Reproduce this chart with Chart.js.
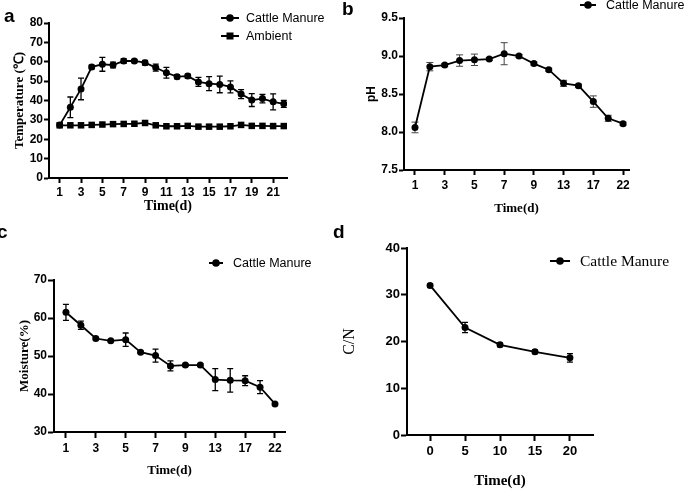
<!DOCTYPE html>
<html>
<head>
<meta charset="utf-8">
<script src="https://cdn.jsdelivr.net/npm/chart.js@4.4.1/dist/chart.umd.min.js"></script>
<style>
  body { margin: 0; background: #fff; }
  #wrap { position: relative; width: 685px; height: 490px; overflow: hidden; }
  canvas { position: absolute; }
  .tag { position: absolute; font: bold 19px 'Liberation Sans', Arial, sans-serif; line-height: 19px; color: #000; }
</style>
</head>
<body>
<div id="wrap">
  <canvas id="chartA" width="342" height="225" style="left:0;top:0"></canvas>
  <canvas id="chartB" width="343" height="225" style="left:342px;top:0"></canvas>
  <canvas id="chartC" width="342" height="265" style="left:0;top:225px"></canvas>
  <canvas id="chartD" width="343" height="265" style="left:342px;top:225px"></canvas>
  <div class="tag" style="left:4px;top:6px">a</div>
  <div class="tag" style="left:342px;top:-1px">b</div>
  <div class="tag" style="left:-3px;top:222px">c</div>
  <div class="tag" style="left:333px;top:222px">d</div>
</div>
<script>
// panel a - temperature
const tempDays = [1, 2, 3, 4, 5, 6, 7, 8, 9, 10, 11, 12, 13, 14, 15, 16, 17, 18, 19, 20, 21, 22];
const tempManure = [27.3, 36.5, 46, 57.3, 58.7, 58.3, 60.4, 60.4, 59.5, 57, 54.3, 52.3, 52.6, 49.6, 48.7, 48.3, 47, 43.3, 40.2, 41, 39.3, 38.3];
const tempManureErr = [0, 5.3, 5.6, 1, 3.6, 1.5, 1.2, 0.8, 1.2, 1.8, 2.8, 1, 1, 2.3, 3.6, 4.3, 3.1, 2.3, 3.3, 2.2, 4.1, 1.8];
const tempAmbient = [27.2, 27.2, 27.2, 27.4, 27.6, 27.8, 27.9, 28, 28.4, 27.2, 26.7, 26.7, 26.9, 26.5, 26.5, 26.5, 26.7, 27.4, 26.9, 26.9, 26.8, 26.8];
const tempTicks = [1, 3, 5, 7, 9, 11, 13, 15, 17, 19, 21];

// panels b and c share the sampling days
const sampleDays = [1, 2, 3, 4, 5, 6, 7, 8, 9, 11, 13, 15, 17, 19, 22];
const sampleTicks = [1, 3, 5, 7, 9, 13, 17, 22];
const phValues = [8.06, 8.86, 8.88, 8.94, 8.95, 8.96, 9.03, 9.0, 8.9, 8.82, 8.64, 8.61, 8.4, 8.18, 8.11];
const phErr = [0.07, 0.055, 0.02, 0.075, 0.075, 0.02, 0.145, 0.02, 0.02, 0.02, 0.04, 0.02, 0.075, 0.04, 0.02];
const moisture = [61.5, 58.1, 54.6, 54.0, 54.3, 51.0, 50.1, 47.4, 47.6, 47.6, 43.8, 43.6, 43.5, 41.8, 37.4];
const moistureErr = [2.1, 1.1, 0.3, 0.3, 1.75, 0.3, 1.7, 1.3, 0.3, 0.3, 2.9, 3.1, 1.3, 1.7, 0.3];

// panel d - C/N
const cnDays = [0, 5, 10, 15, 20];
const cnValues = [32.0, 23.0, 19.3, 17.8, 16.5];
const cnErr = [0.3, 1.1, 0.4, 0.4, 0.9];

const SANS = "'Liberation Sans', Arial, sans-serif";
const SERIF = "'Liberation Serif', 'Times New Roman', serif";

// error bars drawn behind the markers
const errorBars = {
  id: 'errorBars',
  beforeDatasetsDraw(chart) {
    const ctx = chart.ctx;
    const yScale = chart.scales.y;
    chart.data.datasets.forEach((ds, di) => {
      if (!ds.errors) return;
      const meta = chart.getDatasetMeta(di);
      ctx.save();
      ctx.strokeStyle = ds.errorColor || '#000';
      ctx.lineWidth = ds.errorWidth || 1.3;
      meta.data.forEach((pt, i) => {
        const e = ds.errors[i];
        if (!e) return;
        const v = ds.data[i].y;
        const top = yScale.getPixelForValue(v + e);
        const bot = yScale.getPixelForValue(v - e);
        const cap = ds.capHalf || 3;
        ctx.beginPath();
        ctx.moveTo(pt.x, top); ctx.lineTo(pt.x, bot);
        ctx.moveTo(pt.x - cap, top); ctx.lineTo(pt.x + cap, top);
        ctx.moveTo(pt.x - cap, bot); ctx.lineTo(pt.x + cap, bot);
        ctx.stroke();
      });
      ctx.restore();
    });
  }
};

// small legend placed freely on the canvas
const panelLegend = {
  id: 'panelLegend',
  afterDraw(chart, args, opts) {
    if (!opts.spots) return;
    const ctx = chart.ctx;
    ctx.save();
    opts.spots.forEach((s, i) => {
      const ds = chart.data.datasets[i];
      ctx.strokeStyle = '#000';
      ctx.lineWidth = 2;
      ctx.beginPath();
      ctx.moveTo(s.x - opts.half, s.y);
      ctx.lineTo(s.x + opts.half, s.y);
      ctx.stroke();
      ctx.fillStyle = '#000';
      if (ds.pointStyle === 'rect') {
        ctx.fillRect(s.x - 3.5, s.y - 3.5, 7, 7);
      } else {
        ctx.beginPath();
        ctx.arc(s.x, s.y, 3.8, 0, Math.PI * 2);
        ctx.fill();
      }
      ctx.font = opts.font;
      ctx.textBaseline = 'middle';
      ctx.textAlign = 'left';
      ctx.fillText(ds.label, s.x + opts.gap, s.y + 1);
    });
    ctx.restore();
  }
};

function series(label, xs, ys, errs, style) {
  return {
    label: label,
    data: ys.map((v, i) => ({ x: xs[i], y: v })),
    errors: errs,
    borderColor: '#000',
    backgroundColor: '#000',
    borderWidth: 1.8,
    pointStyle: style || 'circle',
    pointRadius: style === 'rect' ? 4.6 : 3.5,
    pointBorderWidth: 0,
    pointBackgroundColor: '#000',
    tension: 0
  };
}

function axis(o) {
  return {
    type: 'linear',
    min: o.min,
    max: o.max,
    afterBuildTicks: o.ticks ? (s => { s.ticks = o.ticks.map(v => ({ value: v })); }) : undefined,
    afterFit: s => { if (o.width) s.width = o.width; if (o.height) s.height = o.height; },
    border: { color: '#000', width: 2 },
    grid: { drawOnChartArea: false, drawTicks: true, tickLength: o.tickLength || 5, tickWidth: 2, tickColor: '#000' },
    ticks: {
      color: '#000',
      font: { family: SANS, size: o.tickSize, weight: 'bold' },
      padding: o.tickPad,
      stepSize: o.step,
      autoSkip: false,
      maxRotation: 0,
      callback: o.label
    },
    title: {
      display: true,
      text: o.title,
      color: '#000',
      font: o.titleFont,
      padding: o.titlePad
    }
  };
}

function baseOptions(padding, scales, legend) {
  return {
    responsive: false,
    animation: false,
    devicePixelRatio: 1,
    layout: { padding: padding },
    scales: scales,
    plugins: {
      legend: { display: false },
      tooltip: { enabled: false },
      panelLegend: legend
    }
  };
}

Chart.register(errorBars, panelLegend);

// a
new Chart(document.getElementById('chartA'), {
  type: 'line',
  data: {
    datasets: [
      series('Cattle Manure', tempDays, tempManure, tempManureErr, 'circle'),
      series('Ambient', tempDays, tempAmbient, null, 'rect')
    ]
  },
  options: baseOptions(
    { left: 0, top: 23, right: 55, bottom: 0 },
    {
      x: axis({ min: 0, max: 22.3, ticks: tempTicks, height: 47, tickSize: 12, tickPad: 2,
        title: 'Time(d)', titleFont: { family: SERIF, size: 14, weight: 'bold' }, titlePad: { top: 0, bottom: 10 } }),
      y: axis({ min: 0, max: 80, step: 10, width: 49, tickSize: 12, tickPad: 1,
        title: 'Temperature (\u2103)', titleFont: { family: SERIF, size: 13, weight: 'bold' }, titlePad: { top: 12, bottom: 0 } })
    },
    { spots: [{ x: 230, y: 18 }, { x: 230, y: 36 }], half: 9, gap: 16, font: '12.5px ' + SANS }
  )
});

// b
const sampleTickIdx = sampleTicks.map(d => sampleDays.indexOf(d));
const sampleIdx = sampleDays.map((d, i) => i);

new Chart(document.getElementById('chartB'), {
  type: 'line',
  data: {
    datasets: [
      Object.assign(series('Cattle Manure', sampleIdx, phValues, phErr, 'circle'),
        { errorColor: '#444', errorWidth: 1, capHalf: 3.5 })
    ]
  },
  options: baseOptions(
    { left: 0, top: 18, right: 56, bottom: 0 },
    {
      x: axis({ min: -0.74, max: 14.4, ticks: sampleTickIdx, height: 55, tickSize: 12, tickPad: 3,
        label: v => sampleDays[v],
        title: 'Time(d)', titleFont: { family: SERIF, size: 13, weight: 'bold' }, titlePad: { top: 0, bottom: 9 } }),
      y: axis({ min: 7.5, max: 9.5, step: 0.5, width: 62, tickSize: 12, tickPad: 1,
        label: v => v.toFixed(1),
        title: 'pH', titleFont: { family: SANS, size: 12, weight: 'bold' }, titlePad: { top: 22, bottom: 0 } })
    },
    { spots: [{ x: 246, y: 5 }], half: 8, gap: 18, font: '12.5px ' + SANS }
  )
});

// c
new Chart(document.getElementById('chartC'), {
  type: 'line',
  data: {
    datasets: [series('Cattle Manure', sampleIdx, moisture, moistureErr, 'circle')]
  },
  options: baseOptions(
    { left: 0, top: 55, right: 57, bottom: 0 },
    {
      x: axis({ min: -0.8, max: 14.67, ticks: sampleTickIdx, height: 58, tickSize: 12, tickPad: 3, tickLength: 6,
        label: v => sampleDays[v],
        title: 'Time(d)', titleFont: { family: SERIF, size: 13, weight: 'bold' }, titlePad: { top: 0, bottom: 12 } }),
      y: axis({ min: 30, max: 70, step: 10, width: 54, tickSize: 12, tickPad: 1, tickLength: 6,
        title: 'Moisture(%)', titleFont: { family: SERIF, size: 13, weight: 'bold' }, titlePad: { top: 17, bottom: 0 } })
    },
    { spots: [{ x: 216, y: 38 }], half: 7, gap: 17, font: '12.5px ' + SANS }
  )
});

// d
new Chart(document.getElementById('chartD'), {
  type: 'line',
  data: {
    datasets: [series('Cattle Manure', cnDays, cnValues, cnErr, 'circle')]
  },
  options: baseOptions(
    { left: 0, top: 23, right: 92, bottom: 0 },
    {
      x: axis({ min: -3.3, max: 23.3, ticks: cnDays, height: 55, tickSize: 13, tickPad: 3, tickLength: 6,
        title: 'Time(d)', titleFont: { family: SERIF, size: 15, weight: 'bold' }, titlePad: { top: 0, bottom: 0 } }),
      y: axis({ min: 0, max: 40, step: 10, width: 65, tickSize: 13, tickPad: 1, tickLength: 6,
        title: 'C/N', titleFont: { family: SERIF, size: 16, weight: 'normal' }, titlePad: { top: -2, bottom: 0 } })
    },
    { spots: [{ x: 218, y: 36 }], half: 10, gap: 20, font: '15.5px ' + SERIF }
  )
});
</script>
</body>
</html>
